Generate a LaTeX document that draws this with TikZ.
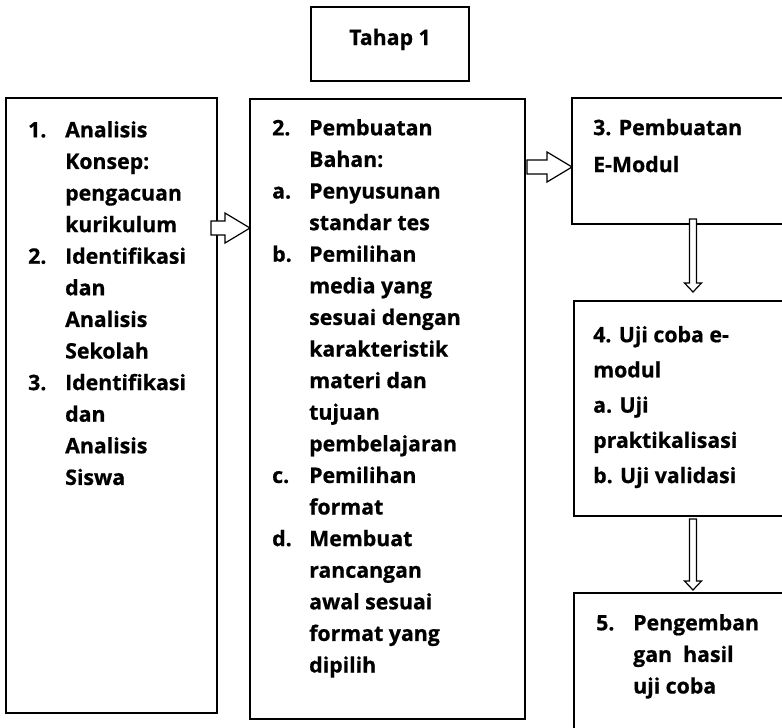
\documentclass[tikz,border=0pt]{standalone}
\usepackage{fontspec}
\setmainfont{Open Sans}[BoldFont={Open Sans Bold}, BoldFeatures={FakeBold=0.7}]
\usepackage{tikz}
\usetikzlibrary{
  calc,
  positioning
}
\newlength{\stepw}
\setlength{\stepw}{37pt}
\newcommand{\stepno}[1]{\makebox[\stepw][l]{#1}}
\newcommand{\stepgap}{\hspace*{\stepw}}
\tikzset{
  box/.style={
    rectangle, draw=black, line width=1.5pt,
    inner sep=0pt, outer sep=0pt, anchor=north west
  },
  txt/.style={
    inner sep=0pt, anchor=north west, align=left,
    font=\fontsize{21.3}{#1}\selectfont\bfseries
  },
  txt/.default=31.6,
  hollow/.style={draw=black, fill=white, line width=1.2pt, line join=miter},
  rightblock/.style={to path={
    let \p1=(\tikztostart), \p2=(\tikztotarget) in
    (\x1,\y1+7pt) -- (\x2-25pt,\y1+7pt) -- (\x2-25pt,\y1+15pt) -- (\x2,\y1)
    -- (\x2-25pt,\y1-15pt) -- (\x2-25pt,\y1-7pt) -- (\x1,\y1-7pt) -- cycle}},
  downblock/.style={to path={
    let \p1=(\tikztostart), \p2=(\tikztotarget) in
    (\x1-3.5pt,\y1) -- (\x1-3.5pt,\y2+9pt) -- (\x1-8.5pt,\y2+9pt) -- (\x1,\y2)
    -- (\x1+8.5pt,\y2+9pt) -- (\x1+3.5pt,\y2+9pt) -- (\x1+3.5pt,\y1) -- cycle}},
}

\begin{document}
\begin{tikzpicture}[x=1pt, y=-1pt]

\clip (0,0) rectangle (782,728);

% Boxes
\node[box, minimum width=158pt, minimum height=74pt] (tahap) at (311,7) {};
\node[box, minimum width=211pt, minimum height=615pt] (konsep) at (6,98) {};
\node[box, minimum width=275pt, minimum height=620pt] (bahan) at (250,99) {};
\node[box, minimum width=230pt, minimum height=126pt] (emodul) at (572,98) {};
\node[box, minimum width=230pt, minimum height=215pt] (ujicoba) at (574,301) {};
\node[box, minimum width=230pt, minimum height=150pt] (pengembangan) at (574,593) {};

% Texts
\node[txt, anchor=base] (tahapText) at ($(tahap.north)+(0,38)$) {Tahap 1};

\node[txt] (konsepText) at ($(konsep.north west)+(22,17)$) {\strut
  \stepno{1.}Analisis\\
  \stepgap Konsep:\\
  \stepgap pengacuan\\
  \stepgap kurikulum\\
  \stepno{2.}Identifikasi\\
  \stepgap dan\\
  \stepgap Analisis\\
  \stepgap Sekolah\\
  \stepno{3.}Identifikasi\\
  \stepgap dan\\
  \stepgap Analisis\\
  \stepgap Siswa};

\node[txt] (bahanText) at ($(bahan.north west)+(22,14)$) {\strut
  \stepno{2.}Pembuatan\\
  \stepgap Bahan:\\
  \stepno{a.}Penyusunan\\
  \stepgap standar tes\\
  \stepno{b.}Pemilihan\\
  \stepgap media yang\\
  \stepgap sesuai dengan\\
  \stepgap karakteristik\\
  \stepgap materi dan\\
  \stepgap tujuan\\
  \stepgap pembelajaran\\
  \stepno{c.}Pemilihan\\
  \stepgap format\\
  \stepno{d.}Membuat\\
  \stepgap rancangan\\
  \stepgap awal sesuai\\
  \stepgap format yang\\
  \stepgap dipilih};

\node[txt=37] (emodulText) at ($(emodul.north west)+(21,11)$) {\strut
  3. Pembuatan\\
  E-Modul};

\node[txt=35.2] (ujicobaText) at ($(ujicoba.north west)+(19,16.4)$) {\strut
  4. Uji coba e-\\
  modul\\
  a. Uji\\
  praktikalisasi\\
  b. Uji validasi};

\node[txt] (pengembanganText) at ($(pengembangan.north west)+(22,15)$) {\strut
  \stepno{5.}Pengemban\\
  \stepgap gan\ \ hasil\\
  \stepgap uji coba};

% Arrows
\coordinate (a1s) at ($(konsep.north east)+(-6,130)$);
\coordinate (a1t) at (bahan.west |- a1s);
\coordinate (a2s) at ($(bahan.north east)+(2,68)$);
\coordinate (a2t) at (emodul.west |- a2s);
\coordinate (a3s) at ($(emodul.south west)+(121,-5)$);
\coordinate (a3t) at ($(a3s |- ujicoba.north)+(0,-9)$);
\coordinate (a4s) at ($(ujicoba.south west)+(119,3)$);
\coordinate (a4t) at ($(a4s |- pengembangan.north)+(0,-3)$);

\draw[hollow] (a1s) to[rightblock] (a1t);
\draw[hollow] (a2s) to[rightblock] (a2t);
\draw[hollow] (a3s) to[downblock] (a3t);
\draw[hollow] (a4s) to[downblock] (a4t);

\end{tikzpicture}
\end{document}
